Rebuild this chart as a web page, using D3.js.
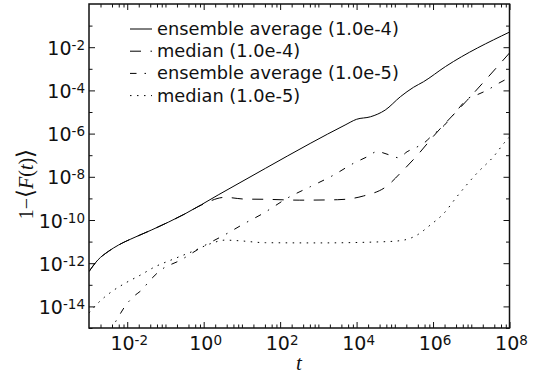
<!DOCTYPE html>
<html>
<head>
  <title>1 - F(t)</title>
  <script src="https://d3js.org/d3.v7.min.js"></script>
  <style>
    body { margin: 0; background: #fff; }
    svg { display: block; font-family: "DejaVu Sans", sans-serif; }
    .tick line { stroke: #111; stroke-width: 1; }
  </style>
</head>
<body>
  <div id="chart"></div>

  <script>
    // series: t values and 1-<F(t)> values
    let tAvg4 = [1e-3, 1.7e-3, 3.2e-3, 5.9e-3, 1.6e-2, 4.4e-2, 0.32, 2.4, 41, 610, 5000, 1e4, 2.3e4, 5.6e4, 1.4e5, 3.1e5, 5.6e5, 2.1e6, 1e8];
    let yAvg4 = [4.1e-13, 1.4e-12, 3.5e-12, 6.9e-12, 1.6e-11, 3.5e-11, 1.9e-10, 1.45e-9, 2.45e-8, 3.5e-7, 2.5e-6, 4.6e-6, 6.0e-6, 1.23e-5, 5.1e-5, 1.4e-4, 2.5e-4, 1.26e-3, 5.0e-2];

    let tMed4 = [1e-3, 1.7e-3, 3.2e-3, 5.9e-3, 1.6e-2, 4.4e-2, 0.32, 0.89, 3.6, 12, 40, 316, 3200, 1.5e4, 6.2e4, 1.38e5, 4.6e5, 1.0e6, 7.8e6, 1e8];
    let yMed4 = [4.1e-13, 1.4e-12, 3.5e-12, 6.9e-12, 1.6e-11, 3.5e-11, 1.9e-10, 5.0e-10, 1.12e-9, 9.3e-10, 9.1e-10, 8.3e-10, 8.7e-10, 1.29e-9, 3.7e-9, 1.45e-8, 1.4e-7, 7.2e-7, 3.5e-5, 5.4e-3];

    let tAvg5 = [3.2e-3, 5.9e-3, 8.7e-3, 1.45e-2, 2.4e-2, 4.0e-2, 7.2e-2, 0.25, 0.93, 3.8, 12, 32, 180, 620, 2500, 8300, 1.9e4, 3.4e4, 7.6e4, 1.26e5, 2.1e5, 3.8e5, 5.6e5, 9.3e5, 2.0e6, 4.2e6, 8.3e6, 1.4e7, 2.8e7, 5.1e7, 1e8];
    let yAvg5 = [5e-16, 3.3e-15, 1.0e-14, 2.8e-14, 5.8e-14, 1.66e-13, 4.5e-13, 1.4e-12, 5.8e-12, 2.2e-11, 7.1e-11, 1.8e-10, 1.2e-9, 3.5e-9, 1.2e-8, 4.2e-8, 8.5e-8, 1.45e-7, 1.0e-7, 7.6e-8, 1.45e-7, 2.4e-7, 3.5e-7, 7.9e-7, 2.5e-6, 1.17e-5, 4.3e-5, 6.2e-5, 1.1e-4, 2.1e-4, 3.9e-4];

    let tMed5 = [1e-3, 1.7e-3, 3.9e-3, 8.7e-3, 2.2e-2, 5.4e-2, 0.14, 0.49, 1.6, 3.6, 8.1, 41, 1000, 6.2e4, 1.7e5, 3.8e5, 8.5e5, 1.9e6, 4.2e6, 1.4e7, 3.8e7, 7.8e7, 1e8];
    let yMed5 = [5e-15, 1.4e-14, 4.8e-14, 1.17e-13, 2.8e-13, 6.9e-13, 1.4e-12, 3.4e-12, 8.3e-12, 1.17e-11, 1.1e-11, 8.9e-12, 8.7e-12, 1.0e-11, 1.17e-11, 2.0e-11, 5.9e-11, 2.0e-10, 1.2e-9, 1.45e-8, 8.5e-8, 4.3e-7, 6.9e-7];

    let seriesNames = ['ensemble average (1.0e-4)', 'median (1.0e-4)', 'ensemble average (1.0e-5)', 'median (1.0e-5)'];
    let xTickExps = [-2, 0, 2, 4, 6, 8];
    let yTickExps = [-14, -12, -10, -8, -6, -4, -2];

    let series = [
      { name: seriesNames[0], t: tAvg4, v: yAvg4, dash: null },
      { name: seriesNames[1], t: tMed4, v: yMed4, dash: '11,9.5' },
      { name: seriesNames[2], t: tAvg5, v: yAvg5, dash: '6.5,8,1.5,8' },
      { name: seriesNames[3], t: tMed5, v: yMed5, dash: '1.5,5.5' }
    ];

    let width = 540, height = 377;
    let plotLeft = 89, plotRight = 509.5, plotTop = 4, plotBottom = 328;

    let svg = d3.select('#chart').append('svg')
      .attr('width', width)
      .attr('height', height);

    let x = d3.scaleLog().domain([1e-3, 1e8]).range([plotLeft, plotRight]);
    let y = d3.scaleLog().domain([1e-15, 1]).range([plotBottom, plotTop]);

    // tick positions
    let xMajor = xTickExps.map(e => Math.pow(10, e));
    let xMinor = [];
    for (let e = -3; e < 8; e++) {
      [2, 4, 6, 8].forEach(s => xMinor.push(s * Math.pow(10, e)));
      if (e % 2 !== 0 && e > -3) xMinor.push(Math.pow(10, e));
    }
    let yMajor = yTickExps.map(e => Math.pow(10, e));
    let yMinor = d3.range(-15, 1).filter(e => e % 2 !== 0).map(e => Math.pow(10, e));

    function tickAxis(axis, vals, size, transform) {
      let g = svg.append('g')
        .attr('transform', transform)
        .call(axis.tickValues(vals).tickSizeInner(size).tickSizeOuter(0).tickFormat(''));
      g.select('.domain').remove();
      return g;
    }

    tickAxis(d3.axisBottom(x), xMajor, -6, 'translate(0,' + plotBottom + ')');
    tickAxis(d3.axisBottom(x), xMinor, -3.5, 'translate(0,' + plotBottom + ')');
    tickAxis(d3.axisTop(x), xMajor, -6, 'translate(0,' + plotTop + ')');
    tickAxis(d3.axisTop(x), xMinor, -3.5, 'translate(0,' + plotTop + ')');
    tickAxis(d3.axisLeft(y), yMajor, -6, 'translate(' + plotLeft + ',0)');
    tickAxis(d3.axisLeft(y), yMinor, -3.5, 'translate(' + plotLeft + ',0)');
    tickAxis(d3.axisRight(y), yMajor, -6, 'translate(' + plotRight + ',0)');
    tickAxis(d3.axisRight(y), yMinor, -3.5, 'translate(' + plotRight + ',0)');

    // tick labels as 10^n
    function powLabel(sel, e) {
      sel.append('tspan').text('10');
      sel.append('tspan')
        .attr('dy', -5)
        .style('font-size', '13.5px')
        .text(String(e));
    }

    xTickExps.forEach(e => {
      let t = svg.append('text')
        .attr('x', x(Math.pow(10, e)) + 2)
        .attr('y', 350)
        .attr('text-anchor', 'middle')
        .attr('fill', '#111')
        .style('font-size', '19px');
      powLabel(t, e);
    });

    yTickExps.forEach(e => {
      let t = svg.append('text')
        .attr('x', plotLeft - 4)
        .attr('y', y(Math.pow(10, e)) + 7.5)
        .attr('text-anchor', 'end')
        .attr('fill', '#111')
        .style('font-size', '19px');
      powLabel(t, e);
    });

    // curves
    svg.append('clipPath').attr('id', 'plotclip')
      .append('rect')
      .attr('x', plotLeft).attr('y', plotTop)
      .attr('width', plotRight - plotLeft).attr('height', plotBottom - plotTop);

    let line = d3.line()
      .x(d => x(d[0]))
      .y(d => y(d[1]))
      .curve(d3.curveMonotoneX);

    svg.append('g').attr('clip-path', 'url(#plotclip)')
      .selectAll('path')
      .data(series)
      .enter()
      .append('path')
      .attr('d', s => line(s.t.map((t, i) => [t, s.v[i]])))
      .attr('fill', 'none')
      .attr('stroke', '#000')
      .attr('stroke-width', 1)
      .attr('stroke-dasharray', s => s.dash);

    // frame
    svg.append('rect')
      .attr('x', plotLeft).attr('y', plotTop)
      .attr('width', plotRight - plotLeft).attr('height', plotBottom - plotTop)
      .attr('fill', 'none')
      .attr('stroke', '#111')
      .attr('stroke-width', 1.5);

    // legend
    let legend = svg.append('g');
    series.forEach((s, i) => {
      let ly = 29 + i * 22.2;
      legend.append('line')
        .attr('x1', 130).attr('x2', 152)
        .attr('y1', ly).attr('y2', ly)
        .attr('stroke', '#000')
        .attr('stroke-width', 1)
        .attr('stroke-dasharray', s.dash);
      legend.append('text')
        .attr('x', 157)
        .attr('y', ly + 6)
        .attr('fill', '#111')
        .style('font-size', '17.8px')
        .text(s.name);
    });

    // axis titles
    svg.append('text')
      .attr('x', 299)
      .attr('y', 370)
      .attr('text-anchor', 'middle')
      .attr('fill', '#111')
      .style('font-family', '"Liberation Serif", serif')
      .style('font-size', '21px')
      .style('font-style', 'italic')
      .text('t');

    let yt = svg.append('text')
      .attr('transform', 'translate(33,184) rotate(-90)')
      .attr('text-anchor', 'middle')
      .attr('fill', '#111')
      .style('font-family', '"Liberation Serif", serif')
      .style('font-size', '20px');
    yt.append('tspan').text('1\u2212');
    yt.append('tspan').style('font-size', '23px').text('\u27e8');
    yt.append('tspan').style('font-style', 'italic').text('F');
    yt.append('tspan').text('(');
    yt.append('tspan').style('font-style', 'italic').text('t');
    yt.append('tspan').text(')');
    yt.append('tspan').style('font-size', '23px').text('\u27e9');
  </script>
</body>
</html>
